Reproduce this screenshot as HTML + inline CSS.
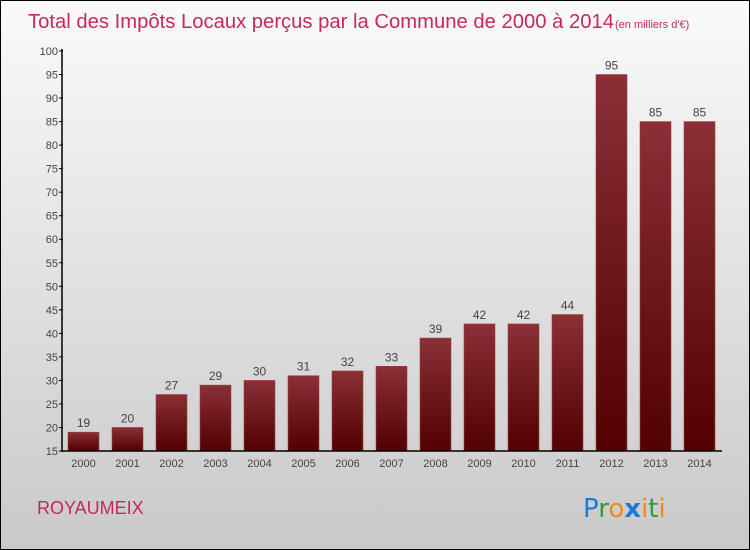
<!DOCTYPE html>
<html><head><meta charset="utf-8"><style>
body{margin:0;}
#wrap{width:750px;height:550px;position:relative;box-sizing:border-box;border:1px solid #000;background:linear-gradient(#fafafa,#c9c9c9);font-family:"Liberation Sans",sans-serif;overflow:hidden;}
svg{position:absolute;left:0;top:0;}
</style></head><body>
<div id="wrap">
<svg id="c" width="750" height="550">
<defs><linearGradient id="g" x1="0" y1="0" x2="0" y2="1"><stop offset="0" stop-color="#8a3036"/><stop offset="1" stop-color="#520000"/></linearGradient></defs>
<text x="27" y="27" font-size="20" fill="#c8285a" textLength="586" lengthAdjust="spacingAndGlyphs">Total des Impôts Locaux perçus par la Commune de 2000 à 2014</text>
<text x="614" y="27" font-size="11" fill="#c8285a">(en milliers d'€)</text>
<text x="36" y="513" font-size="18" fill="#c8285a">ROYAUMEIX</text>
<text x="582" y="516" font-size="26" font-family="'DejaVu Sans',sans-serif"><tspan fill="#1a7cd6">P</tspan><tspan fill="#2e9c3a">r</tspan><tspan fill="#f08a1a">o</tspan><tspan fill="#1a7cd6" font-weight="bold">x</tspan><tspan fill="#f08a1a">i</tspan><tspan fill="#2e9c3a">t</tspan><tspan fill="#f08a1a">i</tspan></text>
<g id="plot"></g>
</svg>
</div>
<script>
const years=["2000","2001","2002","2003","2004","2005","2006","2007","2008","2009","2010","2011","2012","2013","2014"];
const values=[19,20,27,29,30,31,32,33,39,42,42,44,95,85,85];
const yTicks=[15,20,25,30,35,40,45,50,55,60,65,70,75,80,85,90,95,100];
const NS="http://www.w3.org/2000/svg";
const g=document.getElementById('plot');
const y=v=>450-(v-15)*400/85;
const x=i=>82.5+44*i;
function mk(t,a){const e=document.createElementNS(NS,t);for(const k in a)e.setAttribute(k,a[k]);g.appendChild(e);return e;}
yTicks.forEach(t=>{
 const l=mk('line',{x1:58,x2:62,y1:y(t),y2:y(t),stroke:'#000'});
 
 
 const tx=mk('text',{x:57,y:y(t)+4,'text-anchor':'end','font-size':11,fill:'#444'});tx.textContent=t;
 
 
});
values.forEach((v,i)=>{
 const r=mk('rect',{x:x(i)-15.5,y:y(v),width:31,height:450-y(v),fill:'url(#g)',stroke:'#a04048','stroke-width':0.6});
 
 
 const t=mk('text',{x:x(i),y:y(v)-5,'text-anchor':'middle','font-size':12,fill:'#444'});t.textContent=v;
 
 
 const xl=mk('text',{x:x(i),y:466,'text-anchor':'middle','font-size':11,fill:'#444'});xl.textContent=years[i];
 
 
});
const ya=mk('line',{x1:61,x2:61,y1:48,y2:451,stroke:'#000','stroke-width':1.5});


const xa=mk('line',{x1:61,x2:721,y1:450,y2:450,stroke:'#000','stroke-width':1.5});


</script>
</body></html>
